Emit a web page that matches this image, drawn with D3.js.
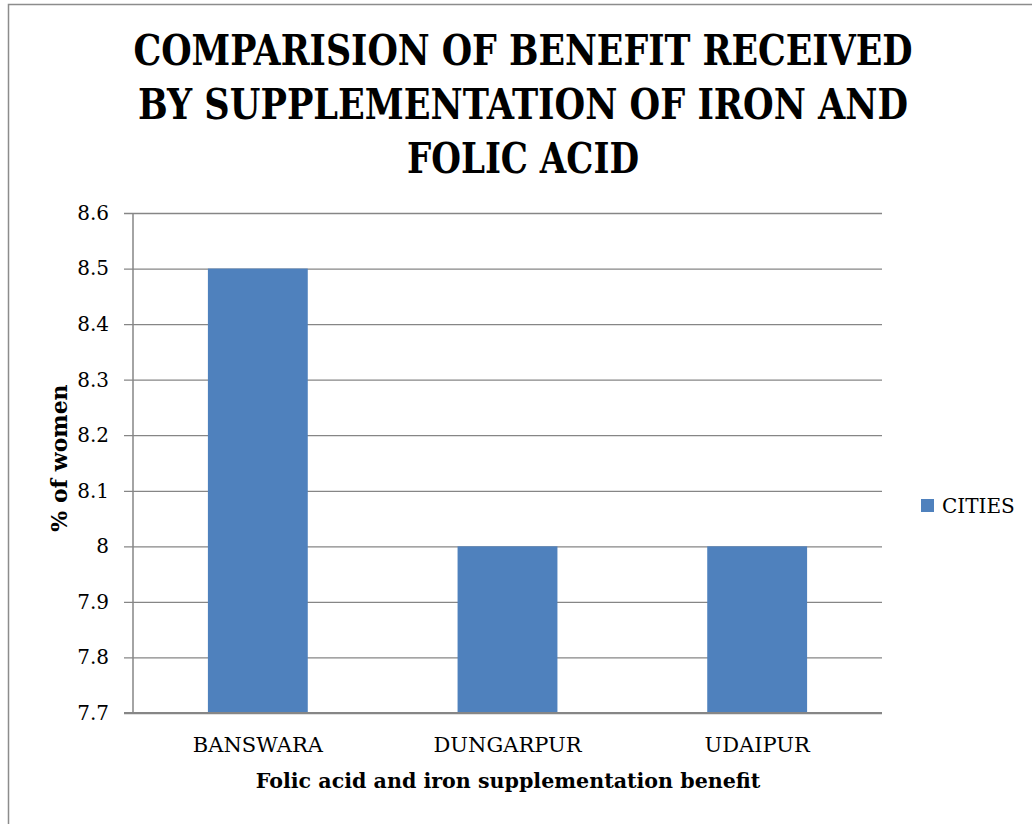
<!DOCTYPE html>
<html>
<head>
<meta charset="utf-8">
<script src="https://cdn.jsdelivr.net/npm/d3@7"></script>
<style>
  html, body { margin: 0; padding: 0; background: #fff; }
  svg { display: block; font-family: "DejaVu Serif", "Liberation Serif", serif; }
</style>
</head>
<body>
<svg id="chart" width="1032" height="824"></svg>
<script>
// Chart data
const categories = ["BANSWARA", "DUNGARPUR", "UDAIPUR"];
const values = [8.5, 8, 8];
const seriesName = "CITIES";
const yTicks = [7.7, 7.8, 7.9, 8, 8.1, 8.2, 8.3, 8.4, 8.5, 8.6];
const titleLines = ["COMPARISION OF BENEFIT RECEIVED", "BY SUPPLEMENTATION OF IRON AND", "FOLIC ACID"];
const xTitle = "Folic acid and iron supplementation benefit";
const yTitle = "% of women";

const svg = d3.select("#chart");
const serif = "DejaVu Serif, Liberation Serif, serif";
const barColor = "#4F81BD";
const gridColor = "#868686";

const plot = { left: 133, right: 882, top: 213, bottom: 713 };

// Outer chart frame (right and bottom edges run off the canvas)
svg.append("rect")
  .attr("x", 8.5).attr("y", 4.5)
  .attr("width", 1100).attr("height", 900)
  .attr("fill", "none").attr("stroke", "#8c8c8c").attr("stroke-width", 1.5);

// Title, three centred lines set in a condensed bold serif
const titleWidths = [779, 770, 232];
const title = svg.append("g")
  .attr("font-family", serif)
  .attr("font-weight", "bold")
  .attr("font-stretch", "condensed")
  .attr("font-size", 42)
  .attr("fill", "#000");
titleLines.forEach((line, i) => {
  title.append("text")
    .attr("x", 523)
    .attr("y", 65 + i * 54)
    .attr("text-anchor", "middle")
    .attr("textLength", titleWidths[i])
    .attr("lengthAdjust", "spacingAndGlyphs")
    .text(line);
});

// Scales
const x = d3.scaleBand().domain(categories).range([plot.left, plot.right]).paddingInner(0.6).paddingOuter(0.3);
const y = d3.scaleLinear().domain([7.7, 8.6]).range([plot.bottom, plot.top]);

// Horizontal gridlines with outward tick marks
const yAxis = d3.axisLeft(y)
  .tickValues(yTicks)
  .tickFormat(d => d3.format("~g")(d))
  .tickSize(-(plot.right - plot.left))
  .tickPadding(24);

const gy = svg.append("g")
  .attr("transform", `translate(${plot.left},0)`)
  .call(yAxis);
gy.select(".domain").remove();
gy.selectAll(".tick line")
  .attr("x1", -9)
  .attr("stroke", gridColor)
  .attr("stroke-width", 1.3);
gy.selectAll(".tick text")
  .attr("font-family", serif)
  .attr("font-size", 20)
  .attr("fill", "#000");

// Vertical axis line
svg.append("line")
  .attr("x1", plot.left).attr("x2", plot.left)
  .attr("y1", plot.top).attr("y2", plot.bottom)
  .attr("stroke", gridColor).attr("stroke-width", 1.5);

// Bars
svg.append("g").selectAll("rect")
  .data(categories.map((c, i) => ({ c, v: values[i] })))
  .join("rect")
  .attr("x", d => x(d.c))
  .attr("width", x.bandwidth())
  .attr("y", d => y(d.v))
  .attr("height", d => y(7.7) - y(d.v))
  .attr("fill", barColor);

// Category axis
const xAxis = d3.axisBottom(x).tickSize(0).tickPadding(24);
const gx = svg.append("g")
  .attr("transform", `translate(0,${plot.bottom})`)
  .call(xAxis);
gx.select(".domain").remove();
gx.selectAll(".tick text")
  .attr("font-family", serif)
  .attr("font-size", 21)
  .attr("fill", "#000");
svg.append("line")
  .attr("x1", plot.left - 9).attr("x2", plot.right)
  .attr("y1", plot.bottom).attr("y2", plot.bottom)
  .attr("stroke", gridColor).attr("stroke-width", 2);

// Axis titles
svg.append("text")
  .attr("x", (plot.left + plot.right) / 2 + 0.5)
  .attr("y", 788)
  .attr("text-anchor", "middle")
  .attr("font-family", serif)
  .attr("font-weight", "bold")
  .attr("font-size", 20.6)
  .text(xTitle);

svg.append("text")
  .attr("transform", `translate(67,${(plot.top + plot.bottom) / 2 - 5}) rotate(-90)`)
  .attr("text-anchor", "middle")
  .attr("font-family", serif)
  .attr("font-weight", "bold")
  .attr("font-size", 22)
  .text(yTitle);

// Legend
const legend = svg.append("g").attr("transform", "translate(921,499)");
legend.append("rect").attr("width", 13).attr("height", 13).attr("fill", barColor);
legend.append("text")
  .attr("x", 21).attr("y", 14)
  .attr("font-family", serif)
  .attr("font-size", 20)
  .text(seriesName);
</script>
</body>
</html>
